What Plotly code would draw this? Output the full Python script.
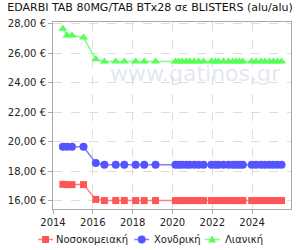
import plotly.graph_objects as go

title = "EDARBI TAB 80MG/TAB BTx28 σε BLISTERS (alu/alu)"
dates = ["2014-07-01", "2014-09-15", "2014-12-15", "2015-07-15", "2016-02-25",
         "2016-08-01", "2017-02-25", "2017-08-01", "2018-02-25", "2018-08-01",
         "2019-02-25", "2020-02-25", "2020-04-25", "2020-06-25", "2020-09-12",
         "2020-11-15", "2021-02-05", "2021-04-25", "2021-07-25", "2021-12-15",
         "2022-02-25", "2022-04-25", "2022-07-25", "2022-10-25", "2023-01-10",
         "2023-03-15", "2023-05-15", "2023-07-15", "2023-12-25", "2024-03-15",
         "2024-06-15", "2024-08-25", "2024-11-15", "2025-01-25", "2025-04-10",
         "2025-06-25"]
hospital = [17.12, 17.10, 17.10, 17.10, 16.10, 16.02, 16.02, 16.02, 16.02, 16.02,
            16.02, 16.02, 16.02, 16.02, 16.02, 16.02, 16.02, 16.02, 16.02, 16.02,
            16.02, 16.02, 16.02, 16.02, 16.02, 16.02, 16.02, 16.02, 16.02, 16.02,
            16.02, 16.02, 16.02, 16.02, 16.02, 16.02]
wholesale = [19.66, 19.66, 19.66, 19.66, 18.56, 18.45, 18.45, 18.45, 18.45, 18.45,
             18.45, 18.45, 18.45, 18.45, 18.45, 18.45, 18.45, 18.45, 18.45, 18.45,
             18.45, 18.45, 18.45, 18.45, 18.45, 18.45, 18.45, 18.45, 18.45, 18.45,
             18.45, 18.45, 18.45, 18.45, 18.45, 18.45]
retail = [27.65, 27.18, 27.18, 27.05, 25.58, 25.42, 25.42, 25.42, 25.42, 25.42,
          25.42, 25.42, 25.42, 25.42, 25.42, 25.42, 25.42, 25.42, 25.42, 25.42,
          25.42, 25.42, 25.42, 25.42, 25.42, 25.42, 25.42, 25.42, 25.42, 25.42,
          25.42, 25.42, 25.42, 25.42, 25.42, 25.42]
series_names = ["Νοσοκομειακή", "Χονδρική", "Λιανική"]
y_ticks = [16, 18, 20, 22, 24, 26, 28]
y_labels = ["16,00 €", "18,00 €", "20,00 €", "22,00 €", "24,00 €", "26,00 €", "28,00 €"]
x_ticks = ["2014-01-01", "2016-01-01", "2018-01-01", "2020-01-01", "2022-01-01", "2024-01-01"]
x_labels = ["2014", "2016", "2018", "2020", "2022", "2024"]

font = "DejaVu Sans"
W, H = 300, 250
ML, MR, MT, MB = 52, 8, 22, 41
PW, PH = W - ML - MR, H - MT - MB


def px(x):
    return (x - ML) / PW


def py(y):
    return (H - MB - y) / PH


fig = go.Figure()
styles = [
    (hospital, "#ff5555", "#ff8080", "square", 7),
    (wholesale, "#5555ff", "#8080ff", "circle", 8),
    (retail, "#55ff55", "#80ff80", "triangle-up", 8),
]
for name, (vals, mc, lc, sym, sz) in zip(series_names, styles):
    fig.add_trace(go.Scatter(
        x=dates, y=vals, name=name, mode="lines+markers",
        line=dict(color=lc, width=1.5),
        marker=dict(color=mc, symbol=sym, size=sz, line=dict(width=0)),
        showlegend=False,
    ))

# watermark
fig.add_annotation(
    x=0.6, y=0.8, xref="paper", yref="paper", text="www.gatinos.gr",
    showarrow=False, font=dict(family=font, size=22, color="rgba(170,190,215,0.35)"),
)

# manual one-row legend (drawn in the bottom margin)
leg_y = 239.5
leg_items = [(37, 53.5), (134, 151.5), (205, 223.5)]  # symbol start, text start
for (x0, tx), name, (_, mc, lc, sym, sz) in zip(leg_items, series_names, styles):
    fig.add_shape(type="line", xref="paper", yref="paper",
                  x0=px(x0), x1=px(x0 + 15), y0=py(leg_y), y1=py(leg_y),
                  line=dict(color=lc, width=1.5))
    cx = x0 + 7.5
    if sym == "square":
        fig.add_shape(type="rect", xref="paper", yref="paper",
                      x0=px(cx - 3.5), x1=px(cx + 3.5), y0=py(leg_y + 3.5), y1=py(leg_y - 3.5),
                      fillcolor=mc, line=dict(width=0))
    elif sym == "circle":
        fig.add_shape(type="circle", xref="paper", yref="paper",
                      x0=px(cx - 4), x1=px(cx + 4), y0=py(leg_y + 4), y1=py(leg_y - 4),
                      fillcolor=mc, line=dict(width=0))
    else:
        path = "M {:.4f} {:.4f} L {:.4f} {:.4f} L {:.4f} {:.4f} Z".format(
            px(cx - 4), py(leg_y + 3), px(cx + 4), py(leg_y + 3), px(cx), py(leg_y - 4))
        fig.add_shape(type="path", xref="paper", yref="paper", path=path,
                      fillcolor=mc, line=dict(width=0))
    fig.add_annotation(x=px(tx), y=py(leg_y), xref="paper", yref="paper",
                       xanchor="left", yanchor="middle", showarrow=False, text=name,
                       font=dict(family=font, size=10, color="#222222"))

axis_common = dict(
    showline=True, linecolor="#aaaaaa", linewidth=1, mirror=True,
    showgrid=True, gridcolor="#dddddd", griddash="dash", gridwidth=1,
    zeroline=False, ticks="outside", ticklen=4, tickcolor="#aaaaaa",
    tickfont=dict(family=font, size=10, color="#222222"),
)
fig.update_xaxes(type="date", range=["2014-01-01", "2025-12-15"],
                 tickvals=x_ticks, ticktext=x_labels, **axis_common)
fig.update_yaxes(range=[15.45, 28.1], tickvals=y_ticks, ticktext=y_labels, **axis_common)

fig.update_layout(
    width=W, height=H,
    margin=dict(l=ML, r=MR, t=MT, b=MB),
    paper_bgcolor="white", plot_bgcolor="white",
    title=dict(text=title, x=0.5, xanchor="center", y=0.985, yanchor="top",
               font=dict(family=font, size=11, color="#111111")),
    showlegend=False,
)
fig.write_html("out.html")
